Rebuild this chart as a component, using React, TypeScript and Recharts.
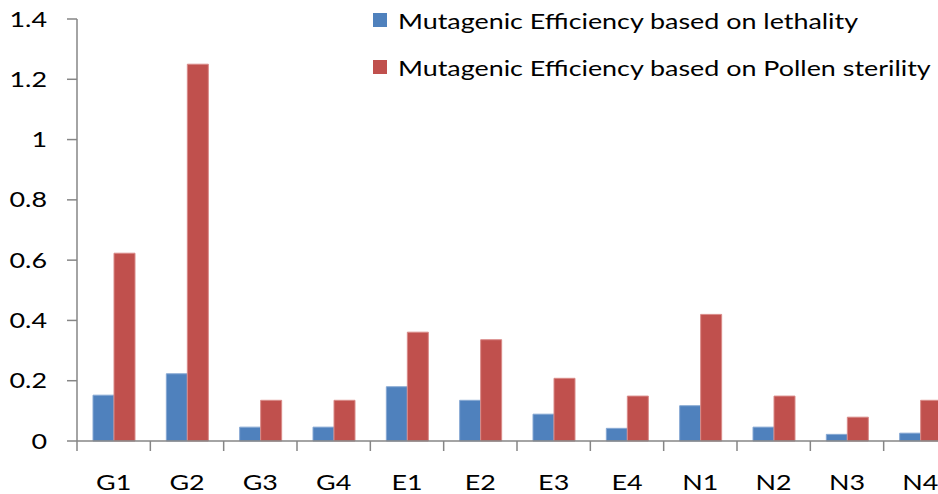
import { BarChart, Bar, XAxis, YAxis } from "recharts";

const categories = ["G1", "G2", "G3", "G4", "E1", "E2", "E3", "E4", "N1", "N2", "N3", "N4"];
const lethality = [0.152, 0.223, 0.046, 0.046, 0.18, 0.135, 0.089, 0.042, 0.117, 0.046, 0.022, 0.026];
const pollenSterility = [0.623, 1.25, 0.135, 0.135, 0.361, 0.336, 0.208, 0.149, 0.42, 0.149, 0.079, 0.135];
const yTicks = [0, 0.2, 0.4, 0.6, 0.8, 1, 1.2, 1.4];

const seriesNames = [
  "Mutagenic Efficiency based on lethality",
  "Mutagenic Efficiency based on Pollen sterility",
];
const colors = ["#4F81BD", "#C0504D"];
const edgeColors = ["#86a8d3", "#d98a88"];

const data = categories.map((name, i) => ({
  name,
  lethality: lethality[i],
  pollen: pollenSterility[i],
}));

const FONT = "Lato, 'Open Sans', sans-serif";
const AXIS = "#868686";
const TICK_SIZE = 10;
const X_TICK_MARGIN = 24;
const STRETCH = 1.28; // source image is stretched horizontally

function CategoryTick(props: any) {
  const { x, y, payload } = props;
  const half = payload.offset || 0;
  const top = y - X_TICK_MARGIN - TICK_SIZE;
  return (
    <g>
      <line x1={x - half} x2={x - half} y1={top} y2={top + TICK_SIZE} stroke={AXIS} strokeWidth={1.5} />
      <text
        transform={`translate(${x},${y}) scale(${STRETCH},1)`}
        dy="0.71em"
        textAnchor="middle"
        fill="#000"
        fontSize={21}
        fontFamily={FONT}
      >
        {payload.value}
      </text>
    </g>
  );
}

function ValueTick(props: any) {
  const { x, y, payload } = props;
  return (
    <text
      transform={`translate(${x},${y}) scale(${STRETCH},1)`}
      dy="0.36em"
      textAnchor="end"
      fill="#000"
      fontSize={21}
      fontFamily={FONT}
    >
      {payload.value}
    </text>
  );
}

function LegendBox() {
  return (
    <div style={{ position: "absolute", top: 8, left: 373, fontFamily: FONT, fontSize: 21, color: "#000" }}>
      {seriesNames.map((n, i) => (
        <div key={n} style={{ display: "flex", alignItems: "center", height: 24, marginBottom: 23, whiteSpace: "nowrap" }}>
          <span style={{ display: "inline-block", width: 14, height: 14, background: colors[i], marginRight: 11 }} />
          <span style={{ display: "inline-block", transform: `scaleX(${STRETCH})`, transformOrigin: "left center" }}>{n}</span>
        </div>
      ))}
    </div>
  );
}

export default function App() {
  return (
    <div style={{ position: "fixed", top: 0, left: 0, width: 938, height: 494, overflow: "hidden", background: "#fff" }}>
      <BarChart
        width={938}
        height={494}
        data={data}
        margin={{ top: 19, right: -19, left: 0, bottom: 0 }}
        barGap={0}
      >
        <XAxis
          dataKey="name"
          height={53}
          axisLine={{ stroke: AXIS, strokeWidth: 1.5 }}
          tickLine={false}
          tickSize={TICK_SIZE}
          tickMargin={X_TICK_MARGIN}
          tick={<CategoryTick />}
          interval={0}
        />
        <YAxis
          width={77}
          domain={[0, 1.4]}
          ticks={yTicks}
          interval={0}
          axisLine={{ stroke: AXIS, strokeWidth: 1.5 }}
          tickLine={{ stroke: AXIS, strokeWidth: 1.5 }}
          tickSize={TICK_SIZE}
          tickMargin={20}
          tick={<ValueTick />}
        />
        <Bar dataKey="lethality" name={seriesNames[0]} fill={colors[0]} stroke={edgeColors[0]} strokeWidth={1} barSize={21} isAnimationActive={false} />
        <Bar dataKey="pollen" name={seriesNames[1]} fill={colors[1]} stroke={edgeColors[1]} strokeWidth={1} barSize={21} isAnimationActive={false} />
      </BarChart>
      <LegendBox />
    </div>
  );
}
